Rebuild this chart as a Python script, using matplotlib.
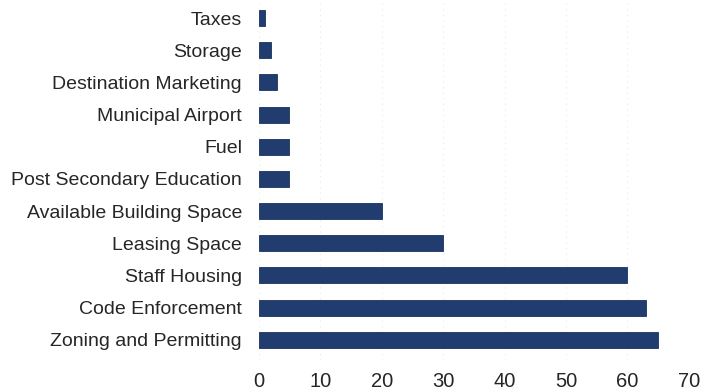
import matplotlib
matplotlib.use("Agg")
import matplotlib.pyplot as plt

categories = [
    "Zoning and Permitting",
    "Code Enforcement",
    "Staff Housing",
    "Leasing Space",
    "Available Building Space",
    "Post Secondary Education",
    "Fuel",
    "Municipal Airport",
    "Destination Marketing",
    "Storage",
    "Taxes",
]
counts = [65, 63, 60, 30, 20, 5, 5, 5, 3, 2, 1]
xticks = [0, 10, 20, 30, 40, 50, 60, 70]

plt.rcParams["font.family"] = ["Liberation Sans", "DejaVu Sans"]

fig = plt.figure(figsize=(7.03, 3.91), dpi=100)
ax = fig.add_axes([0.368, 0.08, 0.612, 0.915])

ypos = list(range(len(categories)))
ax.barh(ypos, counts, height=0.5, color="#213d6f", edgecolor="#1a3260", linewidth=0.6, zorder=3)

ax.set_yticks(ypos)
ax.set_yticklabels(categories, fontsize=14, color="#262626")
ax.set_xticks(xticks)
ax.set_xticklabels([str(t) for t in xticks], fontsize=14.5, color="#262626")
ax.set_xlim(0, 70)
ax.set_ylim(-0.62, 10.5)

ax.tick_params(axis="both", length=0)
ax.tick_params(axis="y", pad=12)
ax.tick_params(axis="x", pad=9)
for s in ax.spines.values():
    s.set_visible(False)

ax.grid(axis="x", linestyle=(0, (1, 4)), color="#e8e8e8", linewidth=0.8, zorder=0)

fig.savefig("out.png", dpi=100)
